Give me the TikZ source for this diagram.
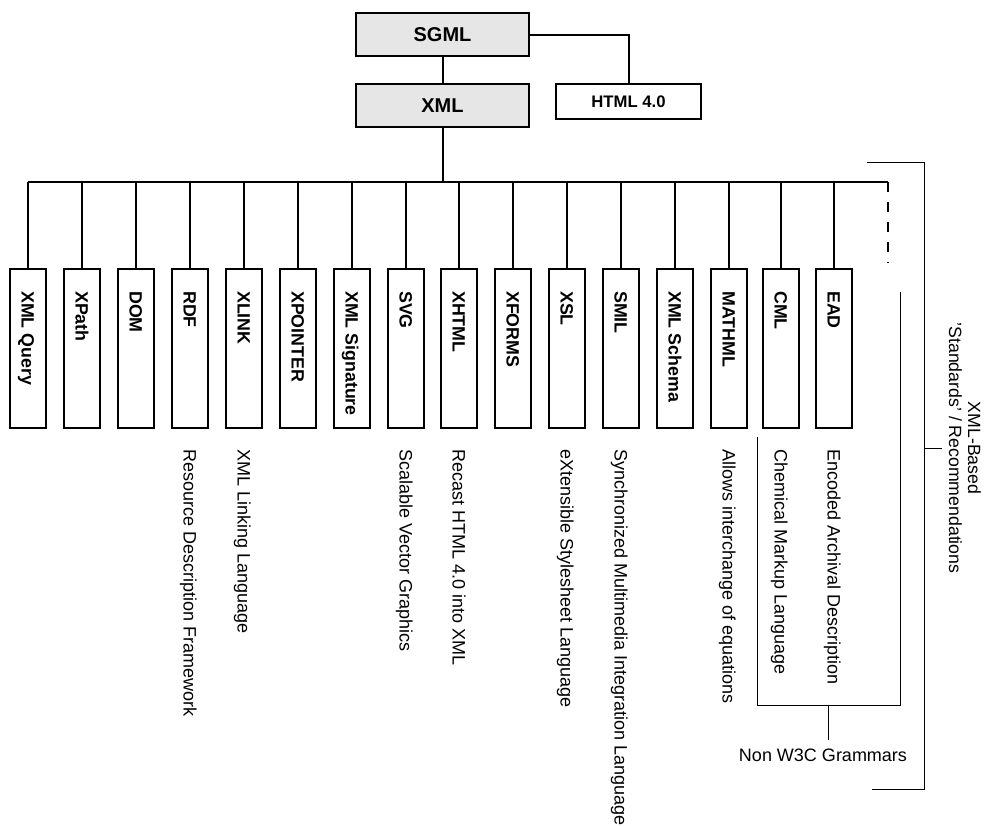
\documentclass[tikz,border=0pt]{standalone}
\usepackage{fontspec}
\setmainfont{Liberation Sans}
\definecolor{boxgray}{HTML}{E6E6E6}
\tikzset{
  connline/.style={black, line width=2pt},
  brackline/.style={black, line width=1pt},
  topbox/.style={draw, line width=2pt, fill=boxgray, minimum width=173, minimum height=43, inner sep=0, font=\fontsize{20}{24}\selectfont\bfseries},
  htmlbox/.style={draw, line width=2pt, fill=white, minimum width=145, minimum height=35, inner sep=0, font=\fontsize{16.7}{20}\selectfont\bfseries},
  childbox/.style={draw, line width=2pt, fill=white, minimum width=36, minimum height=159, inner sep=0},
  childlabel/.style={rotate=-90, anchor=west, inner sep=0, text height=12.8pt, text depth=0pt, font=\fontsize{17.8}{20}\selectfont\bfseries},
  desclabel/.style={rotate=-90, anchor=west, inner sep=0, text height=12.9pt, text depth=0pt, font=\fontsize{18}{20}\selectfont},
  notelabel/.style={inner sep=0, text height=12.9pt, text depth=0pt, font=\fontsize{18}{20}\selectfont},
}
\begin{document}
\begin{tikzpicture}[x=1pt, y=-1pt]
\useasboundingbox (0,0) rectangle (985,825);

% =====================================================
% Top: SGML, XML and HTML 4.0
% =====================================================
\node[topbox] (sgml) at (442.5,34.5) {SGML};
\node[topbox] (xml) at (442.5,105.5) {XML};
\node[htmlbox] (html) at (628.5,101.5) {HTML 4.0};

\draw[connline] (sgml.south) -- (xml.north);
\draw[connline] (sgml.east) -| (html.north);

% =====================================================
% Bus from XML to the XML-based languages
% =====================================================
\coordinate (busL) at (28,182);
\coordinate (busR) at (888,182);
\coordinate (busEnd) at (888,263);

\draw[connline] (xml.south) -- (xml.south |- busL);
\draw[connline] (busL) -- (busR);
\draw[connline, dash pattern=on 10pt off 10pt] (busR) -- (busEnd);

% Language boxes
\node[childbox] (xq) at (28,348.5) {};
\node[childbox] (xpath) at (82,348.5) {};
\node[childbox] (dom) at (136,348.5) {};
\node[childbox] (rdf) at (190,348.5) {};
\node[childbox] (xlink) at (244,348.5) {};
\node[childbox] (xptr) at (298,348.5) {};
\node[childbox] (xsig) at (352,348.5) {};
\node[childbox] (svg) at (406,348.5) {};
\node[childbox] (xhtml) at (459,348.5) {};
\node[childbox] (xforms) at (513,348.5) {};
\node[childbox] (xsl) at (567,348.5) {};
\node[childbox] (smil) at (621,348.5) {};
\node[childbox] (xsch) at (675,348.5) {};
\node[childbox] (mathml) at (729,348.5) {};
\node[childbox] (cml) at (781,348.5) {};
\node[childbox] (ead) at (834,348.5) {};

% Box labels
\node[childlabel] (xq-l) at ([yshift=-23pt]xq.north) {XML Query};
\node[childlabel] (xpath-l) at ([yshift=-23pt]xpath.north) {XPath};
\node[childlabel] (dom-l) at ([yshift=-23pt]dom.north) {DOM};
\node[childlabel] (rdf-l) at ([yshift=-23pt]rdf.north) {RDF};
\node[childlabel] (xlink-l) at ([yshift=-23pt]xlink.north) {XLINK};
\node[childlabel] (xptr-l) at ([yshift=-23pt]xptr.north) {XPOINTER};
\node[childlabel] (xsig-l) at ([yshift=-23pt]xsig.north) {XML Signature};
\node[childlabel] (svg-l) at ([yshift=-23pt]svg.north) {SVG};
\node[childlabel] (xhtml-l) at ([yshift=-23pt]xhtml.north) {XHTML};
\node[childlabel] (xforms-l) at ([yshift=-23pt]xforms.north) {XFORMS};
\node[childlabel] (xsl-l) at ([yshift=-23pt]xsl.north) {XSL};
\node[childlabel] (smil-l) at ([yshift=-23pt]smil.north) {SMIL};
\node[childlabel] (xsch-l) at ([yshift=-23pt]xsch.north) {XML Schema};
\node[childlabel] (mathml-l) at ([yshift=-23pt]mathml.north) {MATHML};
\node[childlabel] (cml-l) at ([yshift=-23pt]cml.north) {CML};
\node[childlabel] (ead-l) at ([yshift=-23pt]ead.north) {EAD};

% Drops from the bus
\draw[connline] (xq.north) -- (xq.north |- busL);
\draw[connline] (xpath.north) -- (xpath.north |- busL);
\draw[connline] (dom.north) -- (dom.north |- busL);
\draw[connline] (rdf.north) -- (rdf.north |- busL);
\draw[connline] (xlink.north) -- (xlink.north |- busL);
\draw[connline] (xptr.north) -- (xptr.north |- busL);
\draw[connline] (xsig.north) -- (xsig.north |- busL);
\draw[connline] (svg.north) -- (svg.north |- busL);
\draw[connline] (xhtml.north) -- (xhtml.north |- busL);
\draw[connline] (xforms.north) -- (xforms.north |- busL);
\draw[connline] (xsl.north) -- (xsl.north |- busL);
\draw[connline] (smil.north) -- (smil.north |- busL);
\draw[connline] (xsch.north) -- (xsch.north |- busL);
\draw[connline] (mathml.north) -- (mathml.north |- busL);
\draw[connline] (cml.north) -- (cml.north |- busL);
\draw[connline] (ead.north) -- (ead.north |- busL);

% Descriptions
\node[desclabel] (rdf-d) at ([yshift=-20pt]rdf.south) {Resource Description Framework};
\node[desclabel] (xlink-d) at ([yshift=-20pt]xlink.south) {XML Linking Language};
\node[desclabel] (svg-d) at ([yshift=-20pt]svg.south) {Scalable Vector Graphics};
\node[desclabel] (xhtml-d) at ([yshift=-20pt]xhtml.south) {Recast HTML 4.0 into XML};
\node[desclabel] (xsl-d) at ([yshift=-20pt]xsl.south) {eXtensible Stylesheet Language};
\node[desclabel] (smil-d) at ([yshift=-20pt]smil.south) {Synchronized Multimedia Integration Language};
\node[desclabel] (mathml-d) at ([yshift=-20pt]mathml.south) {Allows interchange of equations};
\node[desclabel] (cml-d) at ([yshift=-20pt]cml.south) {Chemical Markup Language};
\node[desclabel] (ead-d) at ([yshift=-20pt]ead.south) {Encoded Archival Description};

% =====================================================
% Brackets
% =====================================================
% Non W3C grammars
\coordinate (nwTL) at (757,437);
\coordinate (nwBL) at (757,705);
\coordinate (nwBR) at (900,705);
\coordinate (nwTR) at (900,292);
\coordinate (nwStem) at (828,705);
\coordinate (nwStemEnd) at (828,740);
\draw[brackline] (nwTL) -- (nwBL) -- (nwBR) -- (nwTR);
\draw[brackline] (nwStem) -- (nwStemEnd);
\node[notelabel] (nw) at (823,755) {Non W3C Grammars};

% XML-based standards / recommendations
\coordinate (stdTL) at (867,162);
\coordinate (stdTR) at (924,162);
\coordinate (stdBR) at (924,789);
\coordinate (stdBL) at (872,789);
\coordinate (stdTick) at (924,448);
\coordinate (stdTickEnd) at (942,448);
\draw[brackline] (stdTL) -- (stdTR) -- (stdBR) -- (stdBL);
\draw[brackline] (stdTick) -- (stdTickEnd);
\node[rotate=-90, align=center, inner sep=0, font=\fontsize{17.7}{19}\selectfont] (std) at (965,448) {XML-Based\\'Standards' / Recommendations};

\end{tikzpicture}
\end{document}
